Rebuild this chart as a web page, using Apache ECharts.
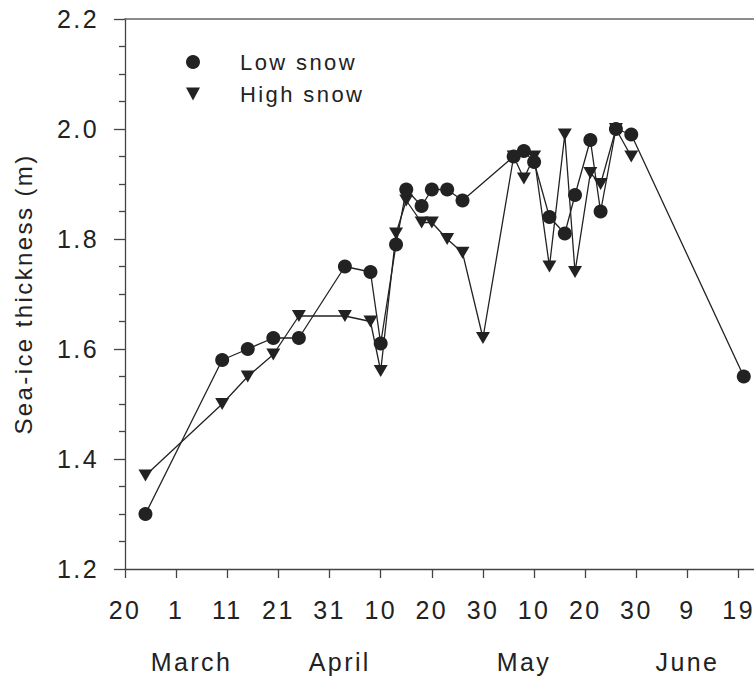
<!DOCTYPE html>
<html>
<head>
<meta charset="utf-8">
<script src="https://cdn.jsdelivr.net/npm/echarts@6/dist/echarts.min.js"></script>
<style>
  html, body { margin: 0; padding: 0; background: #fff; }
  #chart { width: 754px; height: 676px; }
  #chart svg text { letter-spacing: 2.4px; }
</style>
</head>
<body>
<div id="chart"></div>
<script>
// x values are days counted from 20 February
const xTickDays = [0, 10, 20, 30, 40, 50, 60, 70, 80, 90, 100, 110, 120];
const xTickLabels = ['20', '1', '11', '21', '31', '10', '20', '30', '10', '20', '30', '9', '19'];
const monthLabelDays = [13, 42, 78, 110];
const monthLabels = ['March', 'April', 'May', 'June'];

const lowSnowDays = [4, 19, 24, 29, 34, 43, 48, 50, 53, 55, 58, 60, 63, 66, 76, 78, 80, 83, 86, 88, 91, 93, 96, 99, 121];
const lowSnowThickness = [1.30, 1.58, 1.60, 1.62, 1.62, 1.75, 1.74, 1.61, 1.79, 1.89, 1.86, 1.89, 1.89, 1.87, 1.95, 1.96, 1.94, 1.84, 1.81, 1.88, 1.98, 1.85, 2.00, 1.99, 1.55];

const highSnowDays = [4, 19, 24, 29, 34, 43, 48, 50, 53, 55, 58, 60, 63, 66, 70, 76, 78, 80, 83, 86, 88, 91, 93, 96, 99];
const highSnowThickness = [1.37, 1.50, 1.55, 1.59, 1.66, 1.66, 1.65, 1.56, 1.81, 1.87, 1.83, 1.83, 1.80, 1.775, 1.62, 1.95, 1.91, 1.95, 1.75, 1.99, 1.74, 1.92, 1.90, 2.00, 1.95];

const yTicks = { min: 1.2, max: 2.2, step: 0.2 };

const FONT = "'Liberation Sans', Arial, Helvetica, sans-serif";
const INK = '#222';
const AXIS = '#444';
const TRI = 'path://M0,0 L12,0 L6,11 Z';

const pair = (xs, ys) => xs.map((x, i) => [x, ys[i]]);

const chart = echarts.init(document.getElementById('chart'), null, { renderer: 'svg' });
chart.setOption({
  animation: false,
  backgroundColor: '#fff',
  textStyle: { fontFamily: FONT },
  grid: { left: 125, right: 0, top: 19, bottom: 107, containLabel: false, outerBoundsMode: 'none' },
  legend: {
    orient: 'vertical',
    left: 186,
    top: 51,
    padding: 0,
    itemWidth: 14,
    itemHeight: 14,
    itemGap: 10,
    textStyle: { fontFamily: FONT, fontSize: 22, lineHeight: 21, color: INK, padding: [0, 0, 0, 35] },
    data: [
      { name: 'Low snow', icon: 'circle' },
      { name: 'High snow', icon: TRI }
    ]
  },
  xAxis: [
    {
      type: 'value', min: 0, max: 123, position: 'bottom',
      axisLine: { show: true, onZero: false, lineStyle: { color: AXIS, width: 1.3 } },
      axisTick: { show: true, inside: false, length: 9, customValues: xTickDays, lineStyle: { color: AXIS, width: 1.3 } },
      axisLabel: {
        customValues: xTickDays,
        formatter: v => xTickLabels[xTickDays.indexOf(v)],
        fontFamily: FONT, fontSize: 25, color: INK, margin: 28
      },
      splitLine: { show: false }
    },
    {
      type: 'value', min: 0, max: 123, position: 'bottom',
      axisLine: { show: false, onZero: false },
      axisTick: { show: false },
      axisLabel: {
        customValues: monthLabelDays,
        formatter: v => monthLabels[monthLabelDays.indexOf(v)],
        fontFamily: FONT, fontSize: 25, color: INK, margin: 80
      },
      splitLine: { show: false }
    },
    {
      type: 'value', min: 0, max: 123, position: 'top',
      axisLine: { show: true, onZero: false, lineStyle: { color: '#666', width: 1.5 } },
      axisTick: { show: false },
      axisLabel: { show: false },
      splitLine: { show: false }
    }
  ],
  yAxis: {
    type: 'value', min: yTicks.min, max: yTicks.max, interval: yTicks.step,
    name: 'Sea-ice thickness (m)', nameLocation: 'middle', nameGap: 90, nameRotate: 90,
    nameTextStyle: { fontFamily: FONT, fontSize: 24, color: INK },
    axisLine: { show: true, onZero: false, lineStyle: { color: AXIS, width: 1.3 } },
    axisTick: { show: true, inside: false, length: 11, lineStyle: { color: AXIS, width: 1.3 } },
    minorTick: { show: true, splitNumber: 4, length: 6, lineStyle: { color: AXIS, width: 1.3 } },
    axisLabel: { formatter: v => v.toFixed(1), fontFamily: FONT, fontSize: 25, color: INK, margin: 26 },
    splitLine: { show: false }
  },
  series: [
    {
      name: 'High snow', type: 'line', xAxisIndex: 0,
      data: pair(highSnowDays, highSnowThickness),
      symbol: TRI, symbolSize: [14, 12],
      itemStyle: { color: INK },
      lineStyle: { color: INK, width: 1.3 },
      z: 2
    },
    {
      name: 'Low snow', type: 'line', xAxisIndex: 0,
      data: pair(lowSnowDays, lowSnowThickness),
      symbol: 'circle', symbolSize: 14,
      itemStyle: { color: INK },
      lineStyle: { color: INK, width: 1.3 },
      z: 3
    }
  ]
});
</script>
</body>
</html>
